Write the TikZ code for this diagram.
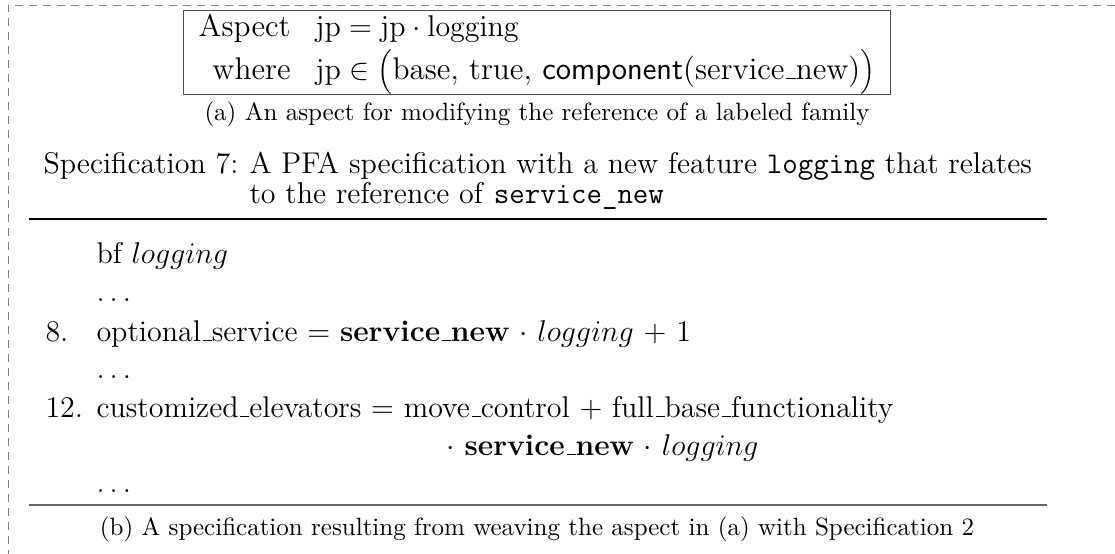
\documentclass[tikz,border=0pt]{standalone}
\usepackage{tikz}
\usetikzlibrary{positioning}

% low rule as the underscore of the old text fonts
\newcommand{\us}{\leavevmode\kern.06em\vbox{\hrule width.3em}}

\tikzset{
	line/.style={anchor=base west,inner sep=0pt},
	subcap/.style={anchor=base,inner sep=0pt,font=\fontsize{10}{12}\selectfont},
	rule/.style={line width=0.6pt}
}

\begin{document}
\begin{tikzpicture}[x=0.4pt,y=-0.4pt,font=\fontsize{12}{14.5}\selectfont]
				\useasboundingbox (0,0) rectangle (1115,554);
				\draw[gray,line width=0.4pt,dash pattern=on 3.2pt off 2.4pt] (1115,5) -- (8,5) -- (8,554);

				% (a) the aspect
				\node[draw=black!70,line width=0.6pt,inner xsep=6pt,inner ysep=0pt,minimum height=31pt,font=\fontsize{12.5}{14.5}\selectfont] (aspect) at (537,52.5) {\begin{tabular}{@{}r@{\hspace{10pt}}l@{}}
					Aspect & $\mathrm{jp} = \mathrm{jp} \cdot \mathrm{logging}$\\[1pt]
					where & $\mathrm{jp} \in \Bigl($base, true, \textsf{component}(service\us new)$\Bigr)$
				\end{tabular}};
				\node[subcap] (capa) at (537,120) {(a) An aspect for modifying the reference of a labeled family};

				% (b) the specification
				\node[line] (spectag) at (43,173) {Specification 7:};
				\node[line] (spectop) at ([xshift=4pt]spectag.base east) {A PFA specification with a new feature \texttt{logging} that relates};
				\node[line] (specbot) at ([yshift=-12pt]spectop.base west) {to the reference of \texttt{service\_new}};
				\draw[rule] (29,219) -- (1047,219);

				\foreach \n/\yy/\t [count=\q] in {
					{}/263/{bf $logging$},{}/301/{$\ldots$},
					{8.}/341/{optional\us service $=$ \textbf{service\us new} $\cdot$ $logging$ $+$ 1},
					{}/378/{$\ldots$},
					{12.}/417/{customized\us elevators $=$ move\us control $+$ full\us base\us functionality},
					{}/492/{$\ldots$}}{
					\node[line] (num\q) at (45,\yy) {\n};
					\node[line] (txt\q) at (96,\yy) {\t};
				}
				\node[line] (cont) at (446,455) {$\cdot$ \textbf{service\us new} $\cdot$ $logging$};
				\draw[rule,black!60,line width=0.8pt] (29,505) -- (1047,505);
				\node[subcap] (capb) at (537,535) {(b) A specification resulting from weaving the aspect in (a) with Specification 2};
			\end{tikzpicture}
\end{document}
